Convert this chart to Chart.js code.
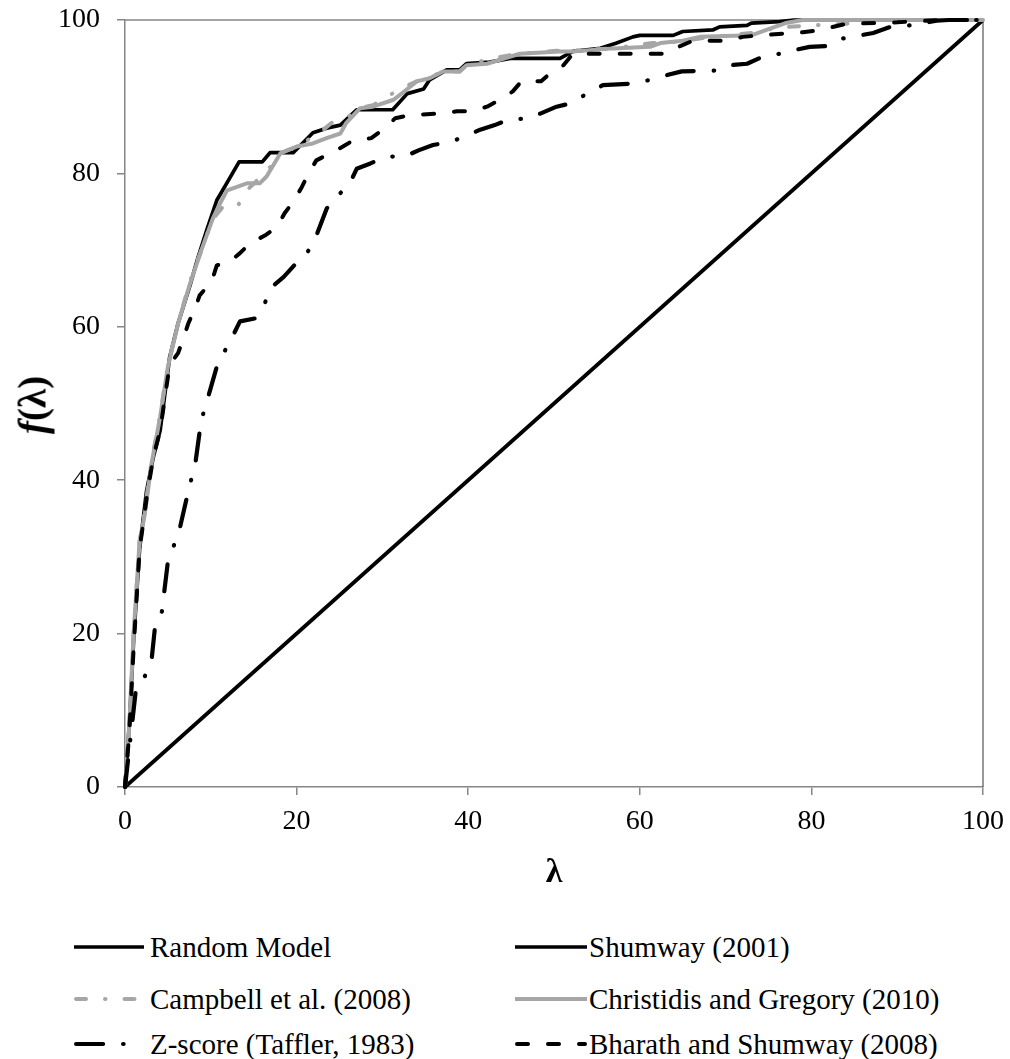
<!DOCTYPE html>
<html>
<head>
<meta charset="utf-8">
<script src="https://cdn.jsdelivr.net/npm/chart.js@4/dist/chart.umd.min.js"></script>
<style>
  html, body { margin: 0; padding: 0; background: #fff; }
  #wrap { position: relative; width: 1010px; height: 1059px; overflow: hidden;
          font-family: "Liberation Serif", "Times New Roman", serif; color: #000; }
  #c { position: absolute; left: 0; top: 0; }
  #ytitle { position: absolute; left: 32px; top: 405px; font-size: 39px; font-weight: bold;
            white-space: nowrap; transform: translate(-50%, -50%) rotate(-90deg); line-height: 1; }
  .leg { position: absolute; height: 40px; display: flex; align-items: center;
         font-size: 29px; white-space: nowrap; transform: translateY(-50%); }
  .leg canvas { display: block; }
</style>
</head>
<body>
<div id="wrap">
  <canvas id="c" width="1010" height="900"></canvas>
  <div id="ytitle"><i>f</i>(λ)</div>
  <div id="legend"></div>
</div>
<script>
// Cumulative share of failures captured f(λ) against the share of firms λ (%)
const seriesNames = [
  'Random Model', 'Shumway (2001)',
  'Campbell et al. (2008)', 'Christidis and Gregory (2010)',
  'Z-score (Taffler, 1983)', 'Bharath and Shumway (2008)'
];
const tickValues = [0, 20, 40, 60, 80, 100];

const randomModel = [[0, 0], [100, 100]];

const shumway = [
  [0, 0], [0.5, 8], [1, 19], [1.7, 31], [2.5, 38.5], [3.3, 43], [4.1, 46.5], [5.2, 56],
  [6.2, 60.5], [7.6, 65.5], [8.5, 69], [9.5, 72.5], [10.7, 76.5], [12, 79], [13.3, 81.5],
  [16, 81.5], [16.9, 82.7], [19.6, 82.7], [21.9, 85.3], [23.5, 85.9], [25.1, 86.3],
  [27, 88.3], [31.2, 88.3], [32.9, 90.4], [34.8, 91], [35.5, 92.2], [37.5, 93.5], [39, 93.5],
  [39.8, 94.3], [42.5, 94.5], [44.9, 95], [50.7, 95], [52.2, 95.9], [55.4, 96.3], [57.3, 97],
  [59.2, 97.8], [60, 98], [63.9, 98], [65, 98.5], [68.5, 98.7], [69.3, 99.1], [72.5, 99.3],
  [73, 99.6], [76.3, 99.8], [78, 100], [100, 100]
];

const campbell = [
  [0, 0], [0.5, 8], [1, 20], [1.7, 32], [2.3, 36], [3.1, 42.5], [4.1, 48.5], [5, 55],
  [6.2, 60.5], [7.6, 66], [8.9, 70], [10.2, 74], [11.3, 75.5], [13, 75.5], [14.2, 77.8],
  [15.7, 79.4], [16.9, 80.8], [18, 82.6], [20, 83.5], [22.7, 85.3], [24.2, 86.7], [25.9, 87.3],
  [27.4, 88.5], [28.9, 88.9], [32.2, 91.1], [34, 92], [35.5, 92.5], [37.1, 93.3], [39, 93.3],
  [39.8, 94.1], [42.7, 95], [46, 95.6], [50.3, 96], [51.9, 96], [56.9, 96.3], [59.4, 96.7],
  [61.5, 97], [63.1, 97], [65, 97.3], [68.5, 97.8], [73, 98.3], [76, 99], [80, 99.3],
  [84, 99.5], [87, 100], [100, 100]
];

const christidis = [
  [0, 0], [0.5, 8], [1, 20], [1.7, 32], [2.3, 35.5], [3.1, 42.2], [4.1, 48.3], [5, 54.8],
  [6.2, 60.5], [7.6, 65.7], [8.9, 70], [10.2, 74], [10.9, 75.7], [11.9, 77.8], [14.2, 78.7],
  [15.7, 78.7], [16.5, 79.6], [18.1, 82.6], [20, 83.5], [21.9, 83.9], [23.5, 84.6], [25.1, 85.2],
  [25.8, 86.6], [27.4, 88.5], [28.9, 88.7], [31.3, 89.6], [32.8, 90.9], [34, 92], [35.5, 92.4],
  [37.1, 93.3], [39, 93.3], [39.8, 94.1], [42.2, 94.3], [43.7, 94.8], [46, 95.6], [50.7, 95.9],
  [52.2, 95.9], [56.9, 96.3], [61.2, 96.5], [62.4, 97], [65, 97.3], [67, 97.8], [73, 98],
  [75, 98.8], [77, 99.6], [79, 100], [100, 100]
];

const zscore = [
  [0, 0], [0.6, 6], [1.3, 13], [2.3, 14.4], [3.1, 16.6], [3.5, 20.9], [4.3, 22.9], [5, 29.4],
  [5.7, 31.5], [6.4, 33.8], [7.2, 37.7], [7.7, 40], [8.2, 42.2], [8.7, 46.3], [9.1, 48.6],
  [9.7, 50.9], [10.7, 54.8], [11.7, 57], [12.6, 58.9], [13.4, 60.7], [15.2, 61.1], [16.3, 63.1],
  [17.1, 65.2], [18.5, 66.5], [19.8, 68.1], [21.2, 69.6], [22.1, 71.3], [23.5, 75.4], [24.9, 77.2],
  [26.2, 78.7], [27, 80.6], [28.6, 81.3], [30.5, 82.2], [32.6, 82.2], [34.2, 83], [35.9, 83.7],
  [37.9, 84.1], [39.6, 84.8], [41.4, 85.7], [43.1, 86.3], [44.9, 87.1], [46.8, 87.1], [48.4, 87.8],
  [50.3, 88.7], [52.2, 89.2], [53.8, 90.4], [55.7, 91.5], [59.2, 91.7], [61.2, 92.2], [63.1, 92.8],
  [64.9, 93.3], [68.8, 93.4], [70.5, 94.1], [72.5, 94.3], [74.3, 95.2], [76.3, 95.6], [78.1, 96.1],
  [79.8, 96.5], [82, 96.6], [83.7, 97.6], [85.7, 98], [87.2, 98.3], [89.2, 99.1], [91.5, 99.3],
  [94.6, 99.9], [96, 100], [100, 100]
];

const bharath = [
  [0, 0], [0.5, 7], [1, 18], [1.7, 31], [2.6, 38.3], [3.3, 43], [4.1, 46.5], [5.2, 55],
  [6.2, 56.6], [6.8, 58.5], [7.4, 60.5], [8.2, 62.5], [8.7, 64.1], [10.1, 65.9], [10.7, 68],
  [12.2, 68.5], [13.4, 69.6], [14.6, 70.9], [16.3, 71.9], [17.7, 73], [18.6, 74.8], [19.6, 76.3],
  [20.6, 78.2], [21.4, 80], [22.3, 81.7], [23.9, 82.6], [25.4, 83.5], [26.6, 84.3], [28.7, 84.6],
  [30.3, 85.9], [31.5, 87.2], [33.2, 87.6], [36.7, 87.8], [38.7, 88.1], [40.4, 88.1], [42.2, 88.7],
  [43.7, 89.6], [45.2, 90.7], [46.2, 92], [48.5, 92], [49.5, 93], [51.1, 94.1], [52.2, 95.6],
  [63.1, 95.6], [64.7, 96.6], [66.2, 97.3], [70, 97.3], [72, 97.8], [74, 98], [79, 98.4],
  [81, 98.7], [84, 99.5], [90, 99.7], [95, 100], [100, 100]
];

const BLACK = '#000000';
const GREY = '#a6a6a6';
const AXIS = '#868686';
const FONT = '"Liberation Serif", "Times New Roman", serif';

const toPoints = arr => arr.map(([x, y]) => ({ x, y }));

// Line styles; order: higher numbers are painted first (underneath)
const styles = [
  { color: BLACK, width: 3.7, dash: [], order: 6 },
  { color: BLACK, width: 3.7, dash: [], order: 5 },
  { color: GREY, width: 4, dash: [10, 19, 0.5, 19], order: 3 },
  { color: GREY, width: 4, dash: [], order: 4 },
  { color: BLACK, width: 4.2, dash: [27, 20, 0.5, 20], order: 2 },
  { color: BLACK, width: 4, dash: [11, 20], order: 1 }
];
const seriesData = [randomModel, shumway, campbell, christidis, zscore, bharath];

const datasets = seriesData.map((d, i) => ({
  label: seriesNames[i],
  data: toPoints(d),
  showLine: true,
  borderColor: styles[i].color,
  backgroundColor: styles[i].color,
  borderWidth: styles[i].width,
  borderDash: styles[i].dash,
  borderCapStyle: styles[i].dash.length ? 'round' : 'butt',
  borderJoinStyle: 'round',
  pointRadius: 0,
  tension: 0,
  fill: false,
  clip: false,
  order: styles[i].order
}));

// Thin frame along the top and right edges of the plot area
const frame = {
  id: 'frame',
  beforeDatasetsDraw(chart) {
    const { ctx, chartArea: a } = chart;
    ctx.save();
    ctx.strokeStyle = AXIS;
    ctx.lineWidth = 1.5;
    ctx.beginPath();
    ctx.moveTo(a.left, a.top);
    ctx.lineTo(a.right, a.top);
    ctx.stroke();
    ctx.strokeStyle = '#555';
    ctx.lineWidth = 1.2;
    ctx.beginPath();
    ctx.moveTo(a.right, a.top);
    ctx.lineTo(a.right, a.bottom);
    ctx.stroke();
    ctx.restore();
  }
};

const axisCommon = {
  type: 'linear',
  min: 0,
  max: 100,
  afterBuildTicks: s => { s.ticks = tickValues.map(v => ({ value: v })); },
  grid: { drawOnChartArea: false, drawTicks: true, tickLength: 8, color: AXIS, lineWidth: 1.5 },
  border: { display: true, color: AXIS, width: 1.5 }
};

new Chart(document.getElementById('c'), {
  type: 'scatter',
  data: { datasets },
  options: {
    responsive: false,
    animation: false,
    devicePixelRatio: 1,
    layout: { padding: { left: 0, right: 27, top: 20, bottom: 0 } },
    plugins: { legend: { display: false }, tooltip: { enabled: false } },
    scales: {
      x: Object.assign({}, axisCommon, {
        position: 'bottom',
        ticks: { color: '#000', font: { family: FONT, size: 28 }, padding: 10, maxRotation: 0 },
        title: { display: true, text: 'λ', color: '#000',
                 font: { family: FONT, size: 34, weight: 'bold' }, padding: { top: 0, bottom: 6 } },
        afterFit: s => { s.height = 113; s.paddingLeft = 0; s.paddingRight = 0; }
      }),
      y: Object.assign({}, axisCommon, {
        position: 'left',
        ticks: { color: '#000', font: { family: FONT, size: 28 }, padding: 17 },
        title: { display: false },
        afterFit: s => { s.width = 125; s.paddingTop = 0; s.paddingBottom = 0; }
      })
    }
  },
  plugins: [frame]
});

// Legend: two columns, three rows, each entry drawn with its series' line style
const legendCols = [
  { sample: 74, sampleW: 70, text: 150 },
  { sample: 515, sampleW: 72, text: 589 }
];
const legendRows = [947, 999, 1044];
const legendEl = document.getElementById('legend');
seriesNames.forEach((name, i) => {
  const col = legendCols[i % 2];
  const row = legendRows[Math.floor(i / 2)];
  const item = document.createElement('div');
  item.className = 'leg';
  item.style.left = col.sample + 'px';
  item.style.top = row + 'px';
  const cv = document.createElement('canvas');
  cv.width = col.text - col.sample;
  cv.height = 12;
  const g = cv.getContext('2d');
  const st = styles[i];
  g.strokeStyle = st.color;
  g.lineWidth = st.width;
  g.setLineDash(st.dash);
  g.lineCap = st.dash.length ? 'round' : 'butt';
  g.beginPath();
  const x0 = st.dash.length ? st.width / 2 : 0;
  g.moveTo(x0, 6);
  g.lineTo(col.sampleW - (st.dash.length ? st.width / 2 : 0), 6);
  g.stroke();
  const span = document.createElement('span');
  span.textContent = name;
  item.appendChild(cv);
  item.appendChild(span);
  legendEl.appendChild(item);
});
</script>
</body>
</html>
